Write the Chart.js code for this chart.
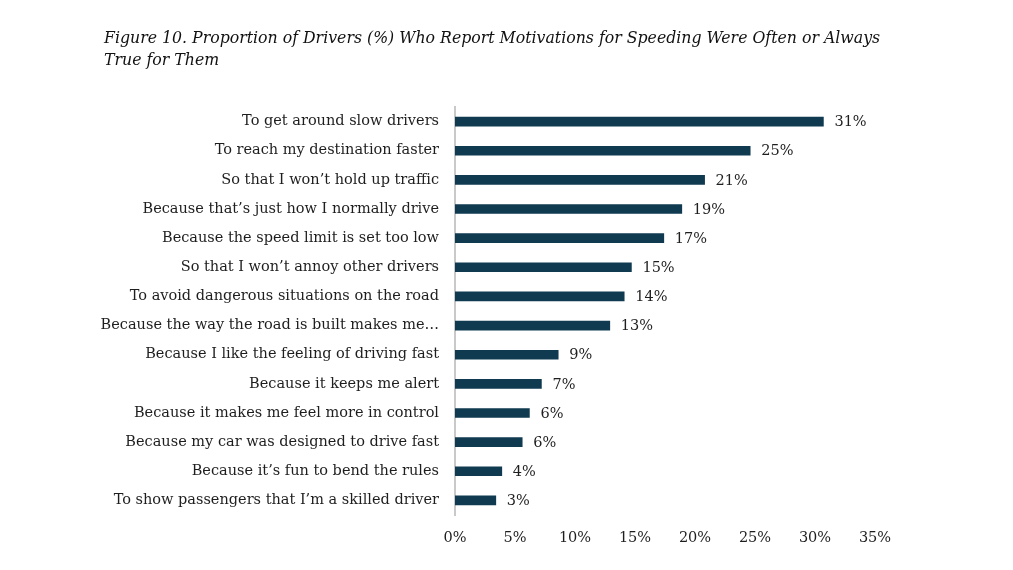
<!DOCTYPE html>
<html>
<head>
<meta charset="utf-8">
<script src="https://cdn.jsdelivr.net/npm/chart.js@4.4.1/dist/chart.umd.min.js"></script>
<style>
  html, body { margin: 0; padding: 0; background: #fff; }
  #wrap { width: 1013px; height: 570px; position: relative; }
  #title {
    position: absolute;
    left: 104px;
    top: 26px;
    margin: 0;
    font-family: "DejaVu Serif Condensed", "DejaVu Serif", serif;
    font-style: italic;
    font-weight: normal;
    font-size: 17.5px;
    line-height: 22px;
    color: #111;
  }
</style>
</head>
<body>
<div id="wrap">
  <canvas id="speedChart"></canvas>
  <h1 id="title">Figure 10. Proportion of Drivers (%) Who Report Motivations for Speeding Were Often or Always<br>True for Them</h1>
</div>
<script>
  'use strict';

  // Motivations, top to bottom as in the figure.
  var motivations = [
    'To get around slow drivers',
    'To reach my destination faster',
    'So that I won\u2019t hold up traffic',
    'Because that\u2019s just how I normally drive',
    'Because the speed limit is set too low',
    'So that I won\u2019t annoy other drivers',
    'To avoid dangerous situations on the road',
    'Because the way the road is built makes me\u2026',
    'Because I like the feeling of driving fast',
    'Because it keeps me alert',
    'Because it makes me feel more in control',
    'Because my car was designed to drive fast',
    'Because it\u2019s fun to bend the rules',
    'To show passengers that I\u2019m a skilled driver'
  ];

  // Bar lengths (%).
  var shares = [30.7, 24.6, 20.8, 18.9, 17.4, 14.7, 14.1, 12.9, 8.6, 7.2, 6.2, 5.6, 3.9, 3.4];

  // Labels printed next to the bars.
  var shareLabels = ['31%', '25%', '21%', '19%', '17%', '15%', '14%', '13%', '9%', '7%', '6%', '6%', '4%', '3%'];

  var xTicks = [0, 5, 10, 15, 20, 25, 30, 35];

  var SERIF = '"DejaVu Serif", "Liberation Serif", serif';
  var BAR_COLOR = '#0f3a50';
  var TEXT_COLOR = '#1e1e1e';
  var LEFT_PAD = 60;
  var AXIS_X = 455;

  /**
   * Writes the percentage just past the end of each bar.
   */
  var valueLabels = {
    id: 'valueLabels',
    afterDatasetsDraw: function (chart) {
      var ctx = chart.ctx;
      var meta = chart.getDatasetMeta(0);
      ctx.save();
      ctx.font = '14.5px ' + SERIF;
      ctx.fillStyle = TEXT_COLOR;
      ctx.textAlign = 'left';
      ctx.textBaseline = 'middle';
      meta.data.forEach(function (bar, i) {
        ctx.fillText(shareLabels[i], bar.x + 11, bar.y + 1);
      });
      ctx.restore();
    }
  };

  new Chart(document.getElementById('speedChart').getContext('2d'), {
    type: 'bar',
    data: {
      labels: motivations,
      datasets: [{
        data: shares,
        backgroundColor: BAR_COLOR,
        barThickness: 9,
        borderWidth: 0
      }]
    },
    options: {
      indexAxis: 'y',
      responsive: true,
      maintainAspectRatio: false,
      animation: false,
      layout: { padding: { left: LEFT_PAD, right: 138, top: 107, bottom: 0 } },
      plugins: {
        legend: { display: false },
        tooltip: { enabled: false },
        title: { display: false }
      },
      scales: {
        x: {
          min: 0,
          max: 35,
          afterBuildTicks: function (scale) {
            scale.ticks = xTicks.map(function (v) { return { value: v }; });
          },
          afterFit: function (scale) {
            scale.height = 55;
          },
          grid: { display: false, drawTicks: false },
          border: { display: false },
          ticks: {
            padding: 15,
            color: TEXT_COLOR,
            font: { family: SERIF, size: 14.5 },
            maxRotation: 0,
            callback: function (v) { return v + '%'; }
          }
        },
        y: {
          afterFit: function (scale) {
            scale.width = AXIS_X - LEFT_PAD;
          },
          grid: { display: false, drawTicks: false },
          border: { display: true, color: '#c9c9c9', width: 2 },
          ticks: {
            padding: 16,
            color: TEXT_COLOR,
            font: { family: SERIF, size: 14.5 },
            autoSkip: false
          }
        }
      }
    },
    plugins: [valueLabels]
  });
</script>
</body>
</html>
